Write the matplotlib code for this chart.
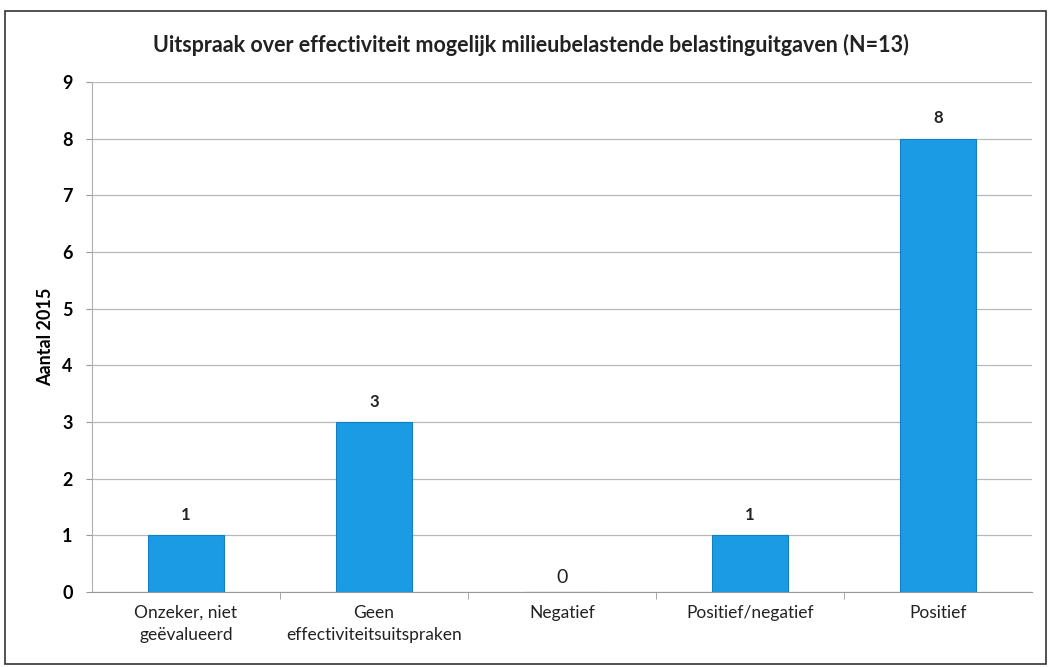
import matplotlib.pyplot as plt

# data
categories = ['Onzeker, niet\ngeëvalueerd', 'Geen\neffectiviteitsuitspraken',
              'Negatief', 'Positief/negatief', 'Positief']
counts = [1, 3, 0, 1, 8]

plt.rcParams['font.family'] = ['Lato', 'DejaVu Sans']

fig = plt.figure(figsize=(10.51, 6.67), dpi=100)
ax = fig.add_axes([0.0875, 0.1124, 0.8945, 0.7646])

x = range(len(categories))
ax.bar(x, counts, width=0.4, color='#1a9be3', edgecolor='#1580c0', linewidth=0.8, zorder=3)

for xi, v in zip(x, counts):
    if v == 0:
        ax.text(xi, 0.1, '0', ha='center', va='bottom', fontsize=14, color='#222222')
    else:
        ax.text(xi, v + 0.22, str(v), ha='center', va='bottom', fontsize=12,
                fontweight='bold', color='#222222')

ax.set_xlim(-0.5, len(categories) - 0.5)
ax.set_ylim(0, 9)
ax.set_yticks(range(0, 10))
ax.set_xticks([i + 0.5 for i in range(len(categories) - 1)], minor=True)
ax.set_xticks(list(x))
ax.set_xticklabels(categories, fontsize=12.5, color='#222222', linespacing=1.5)
ax.tick_params(axis='x', which='major', length=0, pad=9)
ax.tick_params(axis='x', which='minor', length=5, color='#999999')
ax.tick_params(axis='y', length=4, color='#999999', labelsize=13, pad=10)
for lab in ax.get_yticklabels():
    lab.set_fontweight('bold')

ax.grid(axis='y', color='#b8b8b8', linewidth=0.9, zorder=0)
for s in ['top', 'right']:
    ax.spines[s].set_visible(False)
ax.spines['left'].set_color('#b0b0b0')
ax.spines['bottom'].set_color('#999999')

ax.set_ylabel('Aantal 2015', fontsize=13, fontweight='bold', labelpad=6)
fig.text(0.505, 0.933, 'Uitspraak over effectiviteit mogelijk milieubelastende belastinguitgaven (N=13)',
         ha='center', va='center', fontsize=15.5, fontweight='bold', color='#222222')

# outer border
fig.patches.append(plt.Rectangle((0.005, 0.005), 0.99, 0.978, transform=fig.transFigure,
                                 fill=False, edgecolor='#333333', linewidth=1.2))

plt.savefig('out.png', dpi=100)
